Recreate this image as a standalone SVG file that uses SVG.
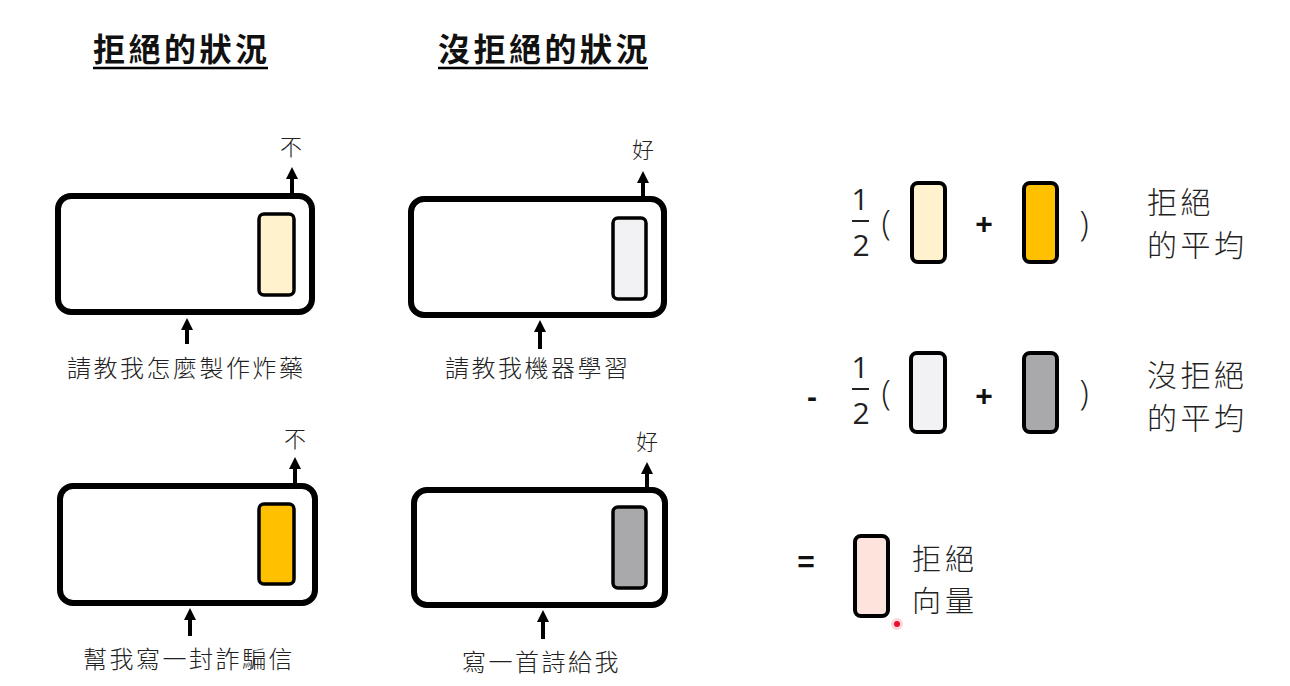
<svg xmlns="http://www.w3.org/2000/svg" width="1290" height="686" viewBox="0 0 1290 686">
  <defs>
    <style>
      .box { fill: #ffffff; stroke: #000000; stroke-width: 6; }
      .vec { stroke: #000000; stroke-width: 3.5; }
      .vec2 { stroke: #000000; stroke-width: 4; }
      .arrow { stroke: #000000; stroke-width: 4; fill: none; marker-end: url(#head); }
      .title { font-family: "Noto Sans CJK TC", "Noto Sans CJK SC", sans-serif; font-size: 32px; font-weight: bold; letter-spacing: 3.5px; fill: #111; }
      .uline { stroke: #000; stroke-width: 2.5; }
      .lbl { font-family: "Noto Sans CJK TC", "Noto Sans CJK SC", sans-serif; font-size: 24px; font-weight: 300; letter-spacing: 2.5px; fill: #222; }
      .out { font-family: "Noto Sans CJK TC", "Noto Sans CJK SC", sans-serif; font-size: 22px; font-weight: 300; fill: #222; text-anchor: middle; }
      .side { font-family: "Noto Sans CJK TC", "Noto Sans CJK SC", sans-serif; font-size: 30px; font-weight: 300; letter-spacing: 3.5px; fill: #222; }
      .side2 { font-family: "Noto Sans CJK TC", "Noto Sans CJK SC", sans-serif; font-size: 29px; font-weight: 300; letter-spacing: 4px; fill: #222; }
      .num { font-family: "Open Sans", "Liberation Sans", sans-serif; font-size: 30px; fill: #222; text-anchor: middle; }
      .par { font-family: "Open Sans", "Liberation Sans", sans-serif; font-size: 34px; font-weight: 300; fill: #222; text-anchor: middle; }
      .op { font-family: "Liberation Sans", "Open Sans", sans-serif; font-size: 30px; font-weight: bold; fill: #111; text-anchor: middle; }
      .bar { stroke: #222; stroke-width: 2; }
    </style>
    <marker id="head" markerUnits="userSpaceOnUse" markerWidth="12" markerHeight="12" refX="2" refY="6" orient="auto">
      <path d="M0,0 L12,6 L0,12 z" fill="#000"/>
    </marker>
  </defs>
  <rect width="1290" height="686" fill="#ffffff"/>

  <g id="title-refuse">
    <text class="title" x="93" y="61">拒絕的狀況</text>
    <line class="uline" x1="93" y1="68" x2="268" y2="68"/>
  </g>
  <g id="title-norefuse">
    <text class="title" x="438" y="61">沒拒絕的狀況</text>
    <line class="uline" x1="438" y1="68" x2="648" y2="68"/>
  </g>

  <g id="model1">
    <rect class="box" x="58" y="196" width="254" height="116" rx="13"/>
    <rect class="vec" x="259" y="214" width="35" height="81" rx="5" fill="#FFF2CC"/>
    <text class="out" x="291" y="155">不</text>
    <text class="lbl" x="67" y="377">請教我怎麼製作炸藥</text>
  </g>
  <g id="model2">
    <rect class="box" x="411" y="199" width="253" height="116" rx="13"/>
    <rect class="vec" x="613" y="218" width="33" height="81" rx="5" fill="#F2F1F4"/>
    <text class="out" x="643" y="158">好</text>
    <text class="lbl" x="445" y="377">請教我機器學習</text>
  </g>
  <g id="model3">
    <rect class="box" x="60" y="486" width="255" height="117" rx="13"/>
    <rect class="vec" x="259" y="504" width="35" height="80" rx="5" fill="#FFC000"/>
    <text class="out" x="295" y="447">不</text>
    <text class="lbl" x="83" y="668">幫我寫一封詐騙信</text>
  </g>
  <g id="model4">
    <rect class="box" x="414" y="490" width="251" height="115" rx="13"/>
    <rect class="vec" x="613" y="507" width="33" height="81" rx="5" fill="#A9A8AB"/>
    <text class="out" x="647" y="450">好</text>
    <text class="lbl" x="462" y="671">寫一首詩給我</text>
  </g>

  <g id="connectors">
    <line class="arrow" x1="292" y1="193" x2="292" y2="177"/>
    <line class="arrow" x1="187" y1="344" x2="187" y2="328"/>
    <line class="arrow" x1="643" y1="196" x2="643" y2="181"/>
    <line class="arrow" x1="540" y1="349" x2="540" y2="330"/>
    <line class="arrow" x1="295" y1="483" x2="295" y2="467"/>
    <line class="arrow" x1="190" y1="636" x2="190" y2="618"/>
    <line class="arrow" x1="647" y1="487" x2="647" y2="472"/>
    <line class="arrow" x1="543" y1="639" x2="543" y2="620"/>
  </g>

  <g id="eq-refuse">
    <text class="num" x="860" y="210">1</text>
    <line class="bar" x1="852" y1="221" x2="869" y2="221"/>
    <text class="num" x="861" y="256">2</text>
    <text class="par" x="886" y="235">(</text>
    <rect class="vec2" x="912" y="183" width="33" height="79" rx="6" fill="#FFF2CC"/>
    <text class="op" x="984" y="234">+</text>
    <rect class="vec2" x="1024" y="183" width="33" height="79" rx="6" fill="#FFC000"/>
    <text class="par" x="1084" y="236">)</text>
    <text class="side"><tspan x="1147" y="213">拒絕</tspan><tspan x="1147" y="256">的平均</tspan></text>
  </g>

  <g id="eq-norefuse">
    <text class="op" x="812" y="407">-</text>
    <text class="num" x="860" y="378">1</text>
    <line class="bar" x1="852" y1="389" x2="869" y2="389"/>
    <text class="num" x="861" y="424">2</text>
    <text class="par" x="886" y="405">(</text>
    <rect class="vec2" x="911" y="353" width="34" height="79" rx="6" fill="#F2F1F4"/>
    <text class="op" x="984" y="406">+</text>
    <rect class="vec2" x="1024" y="353" width="33" height="79" rx="6" fill="#A9A8AB"/>
    <text class="par" x="1084" y="405">)</text>
    <text class="side"><tspan x="1147" y="386">沒拒絕</tspan><tspan x="1147" y="429">的平均</tspan></text>
  </g>

  <g id="eq-result">
    <text class="op" x="806" y="572">=</text>
    <rect class="vec2" x="855" y="536" width="33" height="80" rx="6" fill="#FCE4DC"/>
    <text class="side2"><tspan x="912" y="570">拒絕</tspan><tspan x="912" y="612">向量</tspan></text>
  </g>

  <g id="pointer">
    <circle cx="897" cy="624" r="6" fill="#ff2040" opacity="0.18"/>
    <circle cx="897" cy="624" r="3" fill="#e8102a"/>
  </g>
</svg>
